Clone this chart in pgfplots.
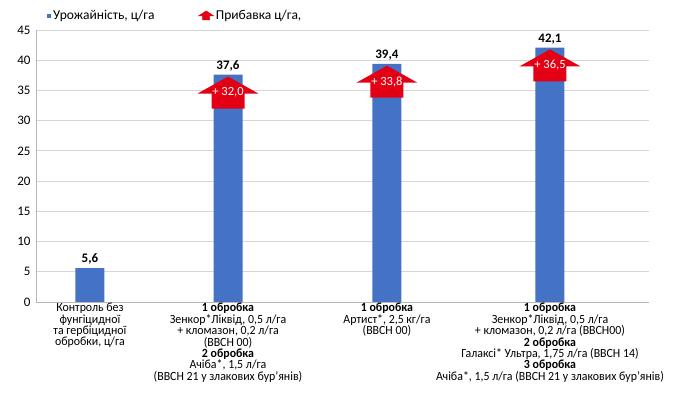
\documentclass[border=0pt]{standalone}
\usepackage{pgfplots}
\pgfplotsset{compat=1.18}
\usepackage{fontspec}
\setmainfont{Carlito}
\newfontfamily\condfont[FakeStretch=0.95]{Carlito}
\definecolor{barblue}{RGB}{68,114,196}
\definecolor{arrred}{RGB}{228,0,20}
\definecolor{gridgray}{RGB}{214,214,214}
\pgfdeclareplotmark{uparr}{%
 \pgfpathmoveto{\pgfqpoint{-16.5pt}{0pt}}%
 \pgfpathlineto{\pgfqpoint{16.5pt}{0pt}}%
 \pgfpathlineto{\pgfqpoint{16.5pt}{15pt}}%
 \pgfpathlineto{\pgfqpoint{30.5pt}{15pt}}%
 \pgfpathlineto{\pgfqpoint{0pt}{32pt}}%
 \pgfpathlineto{\pgfqpoint{-30.5pt}{15pt}}%
 \pgfpathlineto{\pgfqpoint{-16.5pt}{15pt}}%
 \pgfpathclose
 \pgfusepathqfill}
\begin{document}
\begin{tikzpicture}
\path[use as bounding box] (-36pt,-96pt) rectangle (642pt,302pt);
\begin{axis}[
  scale only axis,
  width=613pt, height=272pt,
  xmin=0, xmax=4,
  ymin=0, ymax=45,
  ytick={0,5,...,45},
  enlargelimits=false,
  axis lines*=left,
  axis line style={draw=gridgray!85!black, line width=0.8pt},
  ymajorgrids,
  grid style={draw=gridgray, line width=0.8pt},
  major tick length=0pt,
  xtick={0.352,1.253,2.290,3.354},
  xticklabels={
    {Контроль без\\фунгіцидної\\та гербіцидної\\обробки, ц/га},
    {\textbf{1 обробка}\\Зенкор*Ліквід, 0,5 л/га\\+ кломазон, 0,2 л/га\\(ВВСН 00)\\\textbf{2 обробка}\\Ачіба*, 1,5 л/га\\(ВВСН 21 у злакових бур’янів)},
    {\textbf{1 обробка}\\Артист*, 2,5 кг/га\\(ВВСН 00)},
    {\textbf{1 обробка}\\Зенкор*Ліквід, 0,5 л/га\\+ кломазон, 0,2 л/га (ВВСН00)\\\textbf{2 обробка}\\Галаксі* Ультра, 1,75 л/га (ВВСН 14)\\\textbf{3 обробка}\\Ачіба*, 1,5 л/га (ВВСН 21 у злакових бур’янів)}
  },
  xticklabel style={align=center, font=\condfont\fontsize{12.5}{11.4}\selectfont, inner sep=1pt},
  yticklabel style={font=\fontsize{13}{14}\selectfont, /pgf/number format/assume math mode=true, xshift=-2pt},
  legend style={at={(0.018,1.052)}, anchor=west, draw=none, fill=none,
    inner sep=0pt, font=\fontsize{13.5}{15}\selectfont,
    legend columns=2, /tikz/column 2/.style={column sep=42pt}},
  legend cell align=left,
]
\addplot[ybar, bar width=29pt, fill=barblue, draw=none,
  point meta=explicit symbolic,
  nodes near coords,
  every node near coord/.append style={font=\fontsize{13}{14}\bfseries, text=black, anchor=south, yshift=0pt},
  legend image code/.code={\fill[barblue] (0pt,-2pt) rectangle (4pt,2pt);}]
  coordinates {(0.352,5.6) [5,6] (1.253,37.6) [37,6] (2.290,39.4) [39,4] (3.354,42.1) [42,1]};
\addlegendentry{Урожайність, ц/га}
\addplot[only marks, mark=uparr, color=arrred,
  point meta=explicit symbolic,
  nodes near coords,
  every node near coord/.append style={font=\fontsize{12.5}{14}\selectfont, text=white, anchor=center, yshift=16pt},
  legend image code/.code={\fill[arrred] (-3.5pt,-4pt) -- (3.5pt,-4pt) -- (3.5pt,0pt) -- (7.5pt,0pt) -- (0pt,5pt) -- (-7.5pt,0pt) -- (-3.5pt,0pt) -- cycle;}]
  coordinates {(1.253,32.0) [+ 32,0] (2.290,33.8) [+ 33,8] (3.354,36.5) [+ 36,5]};
\addlegendentry{Прибавка ц/га,}
\end{axis}
\end{tikzpicture}
\end{document}
